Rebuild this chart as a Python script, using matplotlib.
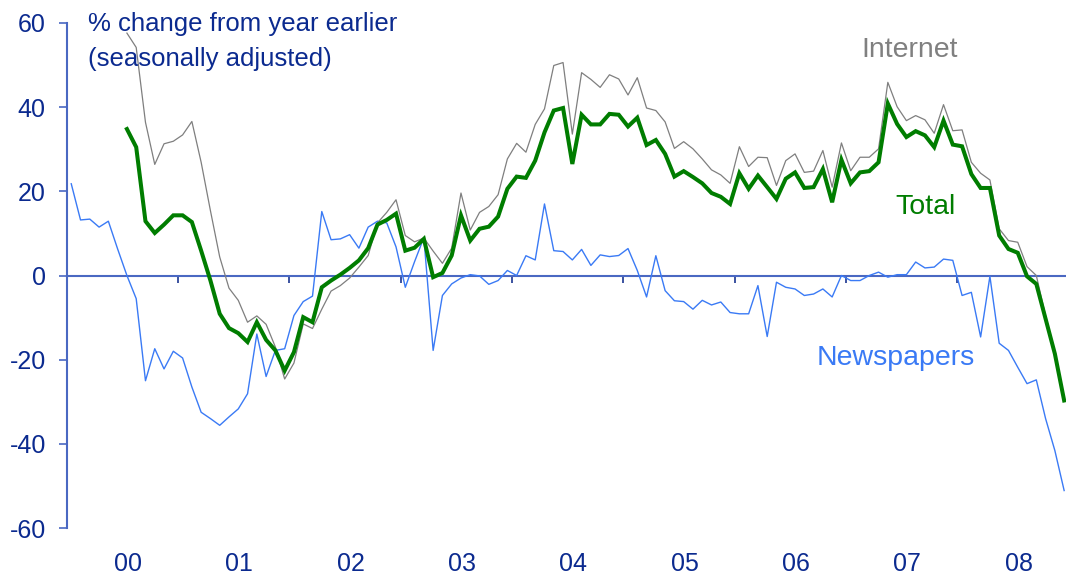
import numpy as np
import pandas as pd
import matplotlib
matplotlib.use("Agg")
import matplotlib.pyplot as plt
from matplotlib import transforms

plt.rcParams['font.family'] = ['Liberation Sans', 'DejaVu Sans']

# Monthly data, Jan 2000 - Dec 2008 (% change from year earlier)
months = pd.date_range("2000-01-01", periods=108, freq="MS")

newspapers = [21.8, 13.2, 13.4, 11.5, 12.9, 6.3, 0.0, -5.5, -25.0, -17.4, -22.2, -18.0,
              -19.6, -26.5, -32.5, -34.0, -35.6, -33.6, -31.7, -28.1, -13.9, -24.0, -17.8, -17.4,
              -9.5, -6.2, -4.9, 15.2, 8.5, 8.7, 9.7, 6.5, 11.5, 12.9, 12.5, 6.8,
              -2.8, 3.3, 9.0, -17.8, -4.75, -2.0, -0.6, 0.2, -0.1, -2.1, -1.2, 1.2,
              0.0, 4.7, 3.7, 17.0, 5.9, 5.7, 3.7, 6.2, 2.4, 4.9, 4.5, 4.75,
              6.4, 1.2, -5.1, 4.7, -3.6, -6.0, -6.2, -8.0, -5.9, -7.0, -6.3, -8.8,
              -9.1, -9.1, -2.4, -14.5, -1.6, -2.8, -3.2, -4.75, -4.4, -3.2, -5.1, 0.0,
              -1.2, -1.2, 0.0, 0.8, -0.4, 0.2, 0.2, 3.2, 1.8, 2.0, 3.9, 3.6,
              -4.75, -4.0, -14.6, -0.2, -16.1, -17.8, -21.8, -25.7, -24.8, -34.0, -41.6, -51.1]

# Total and Internet start in July 2000
total = [34.8, 30.5, 12.9, 10.1, 12.1, 14.3,
         14.3, 12.7, 5.9, -1.2, -9.1, -12.5, -13.7, -15.8, -11.1, -15.3, -17.8, -22.6,
         -18.2, -9.9, -11.1, -2.8, -1.2, 0.2, 1.8, 3.6, 6.5, 12.1, 13.2, 14.7,
         5.9, 6.6, 8.7, -0.4, 0.6, 4.75, 14.3, 8.3, 11.1, 11.6, 14.0, 20.6,
         23.5, 23.2, 27.3, 34.0, 39.2, 39.8, 26.5, 38.2, 35.9, 35.9, 38.4, 38.2,
         35.4, 37.5, 31.0, 32.2, 28.9, 23.5, 24.8, 23.4, 21.9, 19.6, 18.7, 17.0,
         24.3, 20.6, 23.75, 21.0, 18.2, 23.0, 24.5, 20.8, 21.0, 25.3, 17.4, 27.5,
         21.9, 24.5, 24.8, 26.9, 40.85, 36.0, 32.9, 34.3, 33.3, 30.5, 36.8, 31.1,
         30.7, 24.1, 20.8, 20.8, 9.5, 6.3, 5.4, -0.2, -2.0, -10.3, -18.6, -29.7]

internet = [57.6, 54.2, 36.4, 26.4, 31.3, 31.9,
            33.4, 36.6, 26.9, 15.4, 4.4, -3.0, -5.9, -11.1, -9.6, -11.6, -17.0, -24.6,
            -20.8, -11.5, -12.6, -8.0, -3.7, -2.4, -0.6, 2.0, 4.75, 12.5, 15.0, 18.0,
            9.5, 8.0, 8.9, 5.8, 2.9, 6.5, 19.6, 10.8, 15.0, 16.4, 19.2, 27.7,
            31.4, 29.3, 35.9, 39.6, 49.9, 50.6, 33.6, 48.2, 46.6, 44.7, 47.7, 46.7,
            42.9, 47.0, 39.8, 39.2, 36.5, 30.2, 31.8, 30.1, 27.7, 25.1, 23.9, 21.9,
            30.6, 25.9, 28.1, 28.0, 21.4, 27.3, 28.9, 24.5, 24.8, 29.7, 21.0, 31.5,
            24.9, 28.1, 28.1, 30.1, 45.9, 40.1, 36.8, 38.0, 37.0, 33.8, 40.6, 34.4,
            34.6, 26.9, 24.3, 22.7, 11.1, 8.3, 7.9, 2.1, 0.0, -9.6, -18.2, -29.4]

year_labels = ["00", "01", "02", "03", "04", "05", "06", "07", "08"]
y_ticks = [-60, -40, -20, 0, 20, 40, 60]

TEXT = "#0b2a8f"
AXIS = "#4a68c2"
C_NEWS = "#3a7af5"
C_NET = "#7f7f7f"
C_TOT = "#007d00"

# x in months since Jan 2000, plotted mid-month
x_all = np.arange(len(months)) + 0.5
x_tot = x_all[len(months) - len(total):]

fig = plt.figure(figsize=(10.66, 5.76), dpi=100)
ax = fig.add_axes([66.6 / 1066, 1 - 528 / 576, 1 - 66.6 / 1066, (528 - 23) / 576])

ax.plot(x_all, newspapers, color=C_NEWS, lw=1.0, zorder=3, clip_on=False)
ax.plot(x_tot, internet, color=C_NET, lw=0.9, zorder=3, clip_on=False)
ax.plot(x_tot, total, color=C_TOT, lw=2.9, zorder=4, clip_on=False,
        solid_joinstyle='miter')

ax.set_xlim(0, 107.7)
ax.set_ylim(-60, 60)

for s in ['top', 'right']:
    ax.spines[s].set_visible(False)
ax.spines['left'].set_color(AXIS)
ax.spines['left'].set_linewidth(1.5)
ax.spines['bottom'].set_position(('data', 0))
ax.spines['bottom'].set_color(AXIS)
ax.spines['bottom'].set_linewidth(1.5)
ax.spines['bottom'].set_zorder(2)

ax.set_yticks(y_ticks)
ax.set_yticklabels([str(v) for v in y_ticks])
ax.tick_params(axis='y', direction='out', length=6, width=1.2, color=AXIS,
               labelcolor=TEXT, labelsize=18, pad=9)

ax.set_xticks([12 * k for k in range(1, 9)])
ax.tick_params(axis='x', direction='out', length=5, width=1.2, color="#1a3590",
               labelbottom=False)

trans = transforms.blended_transform_factory(ax.transData, fig.transFigure)
for k, lab in enumerate(year_labels):
    ax.text(12 * k + 6.6, 1 - 564 / 576, lab, transform=trans, ha='center',
            va='center', fontsize=18, color=TEXT)

fig.text(88 / 1066, 1 - 24 / 576, "% change from year earlier", fontsize=18.5,
         color=TEXT, ha='left', va='center')
fig.text(88 / 1066, 1 - 59 / 576, "(seasonally adjusted)", fontsize=18.5,
         color=TEXT, ha='left', va='center')

fig.text(910 / 1066, 1 - 50 / 576, "Internet", fontsize=20.5, color="#808080",
         ha='center', va='center')
fig.text(926 / 1066, 1 - 207 / 576, "Total", fontsize=20.5, color=C_TOT,
         ha='center', va='center')
fig.text(896 / 1066, 1 - 358 / 576, "Newspapers", fontsize=20.5, color=C_NEWS,
         ha='center', va='center')

fig.savefig("out.png", dpi=100)
